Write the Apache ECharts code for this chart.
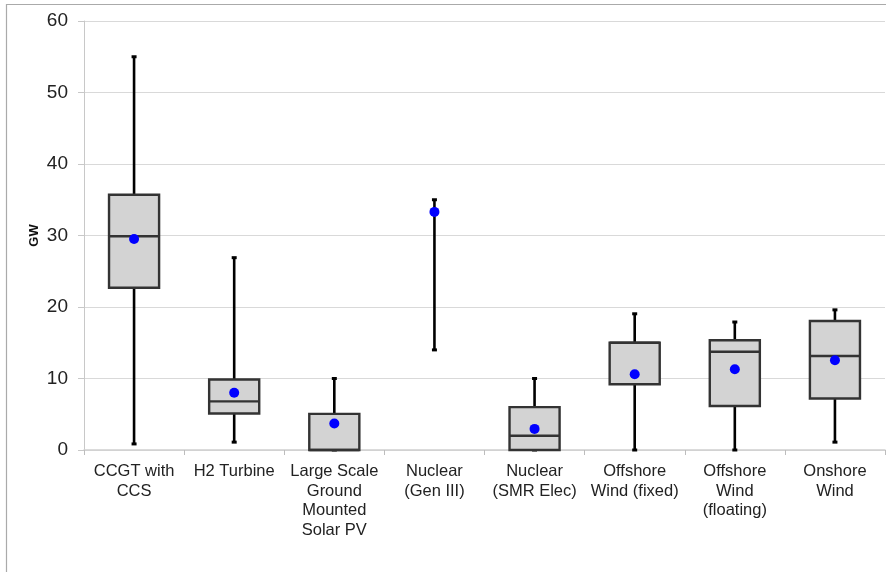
<!DOCTYPE html>
<html>
<head>
<meta charset="utf-8">
<script src="https://cdn.jsdelivr.net/npm/echarts@6/dist/echarts.min.js"></script>
<style>
html,body{margin:0;padding:0;background:#fff;}
#chart{width:886px;height:572px;}
</style>
</head>
<body>
<div id="chart"></div>
<script>
var categories = ["CCGT with\nCCS", "H2 Turbine", "Large Scale\nGround\nMounted\nSolar PV", "Nuclear\n(Gen III)", "Nuclear\n(SMR Elec)", "Offshore\nWind (fixed)", "Offshore\nWind\n(floating)", "Onshore\nWind"];
var whiskerMin = [0.85, 1.1, 0, 14, 0, 0, 0, 1.1];
var q1Values = [22.7, 5.1, 0, null, 0, 9.2, 6.15, 7.2];
var medianValues = [29.9, 6.8, 0, null, 2.0, 15.0, 13.75, 13.15];
var q3Values = [35.7, 9.85, 5.05, null, 6.0, 15.0, 15.35, 18.05];
var whiskerMax = [55, 26.9, 10, 35, 10, 19.05, 17.9, 19.6];
var meanValues = [29.5, 8.0, 3.7, 33.3, 2.95, 10.6, 11.3, 12.55];
var yTicks = [0, 10, 20, 30, 40, 50, 60];

var whiskerData = categories.map(function (c, i) { return [i, whiskerMin[i], whiskerMax[i]]; });
var boxData = [];
categories.forEach(function (c, i) {
  if (q1Values[i] !== null) boxData.push([i, q1Values[i], medianValues[i], q3Values[i]]);
});
var meanData = categories.map(function (c, i) { return [i, meanValues[i]]; });

var chart = echarts.init(document.getElementById('chart'), null, {renderer: 'canvas'});
var font = 'Liberation Sans, Arial, sans-serif';
chart.setOption({
  backgroundColor: '#fff',
  animation: false,
  grid: {left: 84, right: 1, top: 21, bottom: 122, containLabel: false},
  graphic: [
    {type: 'line', shape: {x1: 6, y1: 4.5, x2: 886, y2: 4.5}, style: {stroke: '#aaaaaa', lineWidth: 1.2}},
    {type: 'line', shape: {x1: 6.5, y1: 4, x2: 6.5, y2: 572}, style: {stroke: '#aaaaaa', lineWidth: 1.2}}
  ],
  xAxis: {
    type: 'category',
    data: categories,
    boundaryGap: true,
    axisLine: {show: true, lineStyle: {color: '#cfcfcf', width: 1.5}},
    axisTick: {show: true, interval: 0, length: 5, lineStyle: {color: '#bdbdbd'}},
    axisLabel: {interval: 0, color: '#222', fontFamily: font, fontSize: 16.5, lineHeight: 19.5, margin: 12},
    splitLine: {show: false}
  },
  yAxis: {
    type: 'value',
    min: yTicks[0],
    max: yTicks[yTicks.length - 1],
    interval: 10,
    name: 'GW',
    nameLocation: 'middle',
    nameRotate: 90,
    nameGap: 43,
    nameMoveOverlap: false,
    nameTextStyle: {fontFamily: font, fontSize: 13, fontWeight: 'bold', color: '#111'},
    axisLine: {show: true, lineStyle: {color: '#c8c8c8', width: 1}},
    axisTick: {show: true, length: 6, lineStyle: {color: '#c8c8c8'}},
    axisLabel: {color: '#222', fontFamily: font, fontSize: 19, margin: 16},
    splitLine: {show: true, lineStyle: {color: '#d9d9d9', width: 1.2}}
  },
  series: [
    {
      type: 'custom',
      name: 'whisker',
      data: whiskerData,
      encode: {x: 0, y: [1, 2]},
      z: 2,
      renderItem: function (params, api) {
        var x = api.value(0);
        var pMin = api.coord([x, api.value(1)]);
        var pMax = api.coord([x, api.value(2)]);
        var cap = 2.5;
        var st = {stroke: '#000', lineWidth: 2.6};
        return {
          type: 'group',
          children: [
            {type: 'line', shape: {x1: pMin[0], y1: pMin[1], x2: pMax[0], y2: pMax[1]}, style: st},
            {type: 'line', shape: {x1: pMin[0] - cap, y1: pMin[1], x2: pMin[0] + cap, y2: pMin[1]}, style: {stroke: '#000', lineWidth: 3}},
            {type: 'line', shape: {x1: pMax[0] - cap, y1: pMax[1], x2: pMax[0] + cap, y2: pMax[1]}, style: {stroke: '#000', lineWidth: 3}}
          ]
        };
      }
    },
    {
      type: 'custom',
      name: 'box',
      data: boxData,
      encode: {x: 0, y: [1, 2, 3]},
      z: 3,
      renderItem: function (params, api) {
        var x = api.value(0);
        var pQ1 = api.coord([x, api.value(1)]);
        var pMed = api.coord([x, api.value(2)]);
        var pQ3 = api.coord([x, api.value(3)]);
        var w = api.size([1, 0])[0] * 0.5;
        var st = {stroke: '#333', lineWidth: 2.4};
        return {
          type: 'group',
          children: [
            {type: 'rect', shape: {x: pQ3[0] - w / 2, y: pQ3[1], width: w, height: pQ1[1] - pQ3[1]}, style: {fill: '#d3d3d3', stroke: '#333', lineWidth: 2.4}},
            {type: 'line', shape: {x1: pMed[0] - w / 2, y1: pMed[1], x2: pMed[0] + w / 2, y2: pMed[1]}, style: st}
          ]
        };
      }
    },
    {
      type: 'scatter',
      name: 'mean',
      data: meanData,
      symbol: 'circle',
      symbolSize: 10,
      z: 4,
      itemStyle: {color: '#0000ff', opacity: 1}
    }
  ]
});
</script>
</body>
</html>
